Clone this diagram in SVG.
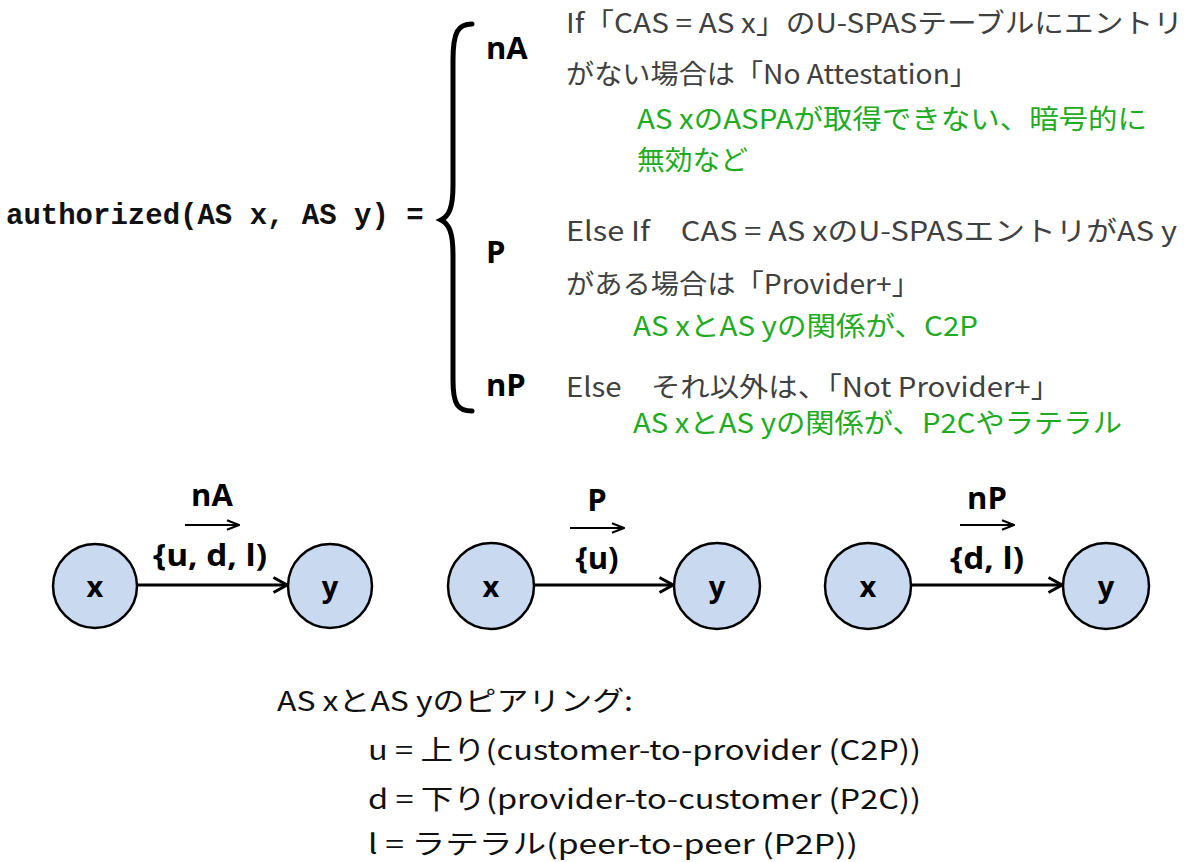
<svg xmlns="http://www.w3.org/2000/svg" width="1200" height="862" viewBox="0 0 1200 862">
<defs>
<style>
.mono{font-family:"Liberation Mono","DejaVu Sans Mono",monospace;font-weight:bold;font-size:29px;fill:#111}
.jp{font-family:"Noto Sans CJK JP","Noto Sans",sans-serif;font-size:27px;fill:#404040}
.gr{font-family:"Noto Sans CJK JP","Noto Sans",sans-serif;font-size:27px;fill:#22aa22}
.bk{font-family:"Noto Sans CJK JP","Noto Sans",sans-serif;font-size:27px;fill:#111}
.lbl{font-family:"Open Sans","Liberation Sans",sans-serif;font-weight:bold;font-size:31px;fill:#000}
.el{font-family:"Open Sans","Liberation Sans",sans-serif;font-weight:bold;font-size:31px;fill:#000;text-anchor:middle}
.nd{fill:#c9daf0;stroke:#000;stroke-width:2.5}
.ntx{font-family:"Open Sans","Liberation Sans",sans-serif;font-weight:bold;font-size:29px;fill:#000;text-anchor:middle}
.edge{stroke:#000;stroke-width:3;fill:none}
.small{stroke:#000;stroke-width:2;fill:none}
</style>
<marker id="head" viewBox="0 0 16 18" refX="15" refY="9" markerWidth="16" markerHeight="18" markerUnits="userSpaceOnUse" orient="auto">
<path d="M1.5,1.5 L15,9 L1.5,16.5" fill="none" stroke="#000" stroke-width="3"/>
</marker>
<marker id="shead" viewBox="0 0 14 12" refX="13" refY="6" markerWidth="14" markerHeight="12" markerUnits="userSpaceOnUse" orient="auto">
<path d="M1,1.2 L13,6 L1,10.8" fill="none" stroke="#000" stroke-width="2"/>
</marker>
</defs>
<rect width="1200" height="862" fill="#fff"/>

<g id="formula">
<text class="mono" x="6" y="224">authorized(AS x, AS y) =</text>
<path d="M472,24 C458,24 453,32 453,60 L453,185 C453,208 449,216 441,220 C449,224 453,232 453,255 L453,380 C453,405 458,411 472,411" fill="none" stroke="#000" stroke-width="5" stroke-linecap="round"/>
<text class="lbl" x="486" y="59">nA</text>
<text class="lbl" x="486" y="263">P</text>
<text class="lbl" x="486" y="396">nP</text>
</g>

<g id="cases">
<text class="jp" x="566" y="33" textLength="617" lengthAdjust="spacingAndGlyphs">If「CAS = AS x」のU-SPASテーブルにエントリ</text>
<text class="jp" x="566" y="84" textLength="412" lengthAdjust="spacingAndGlyphs">がない場合は「No Attestation」</text>
<text class="gr" x="637" y="129" textLength="510" lengthAdjust="spacingAndGlyphs">AS xのASPAが取得できない、暗号的に</text>
<text class="gr" x="637" y="170" textLength="111" lengthAdjust="spacingAndGlyphs">無効など</text>
<text class="jp" x="566" y="241" textLength="611" lengthAdjust="spacingAndGlyphs">Else If　CAS = AS xのU-SPASエントリがAS y</text>
<text class="jp" x="566" y="294" textLength="354" lengthAdjust="spacingAndGlyphs">がある場合は「Provider+」</text>
<text class="gr" x="633" y="336" textLength="345" lengthAdjust="spacingAndGlyphs">AS xとAS yの関係が、C2P</text>
<text class="jp" x="566" y="397" textLength="494" lengthAdjust="spacingAndGlyphs">Else　それ以外は、「Not Provider+」</text>
<text class="gr" x="633" y="433" textLength="489" lengthAdjust="spacingAndGlyphs">AS xとAS yの関係が、P2Cやラテラル</text>
</g>

<g id="g1x"><circle class="nd" cx="95" cy="586" r="42"/><text class="ntx" x="95" y="597">x</text></g>
<g id="g1y"><circle class="nd" cx="330" cy="586" r="42"/><text class="ntx" x="330" y="597">y</text></g>
<g id="g2x"><circle class="nd" cx="491" cy="586" r="43"/><text class="ntx" x="491" y="597">x</text></g>
<g id="g2y"><circle class="nd" cx="717" cy="586" r="43"/><text class="ntx" x="717" y="597">y</text></g>
<g id="g3x"><circle class="nd" cx="868" cy="586" r="43"/><text class="ntx" x="868" y="597">x</text></g>
<g id="g3y"><circle class="nd" cx="1106" cy="586" r="43"/><text class="ntx" x="1106" y="597">y</text></g>

<g id="connectors">
<line class="edge" x1="137" y1="585" x2="287" y2="585" marker-end="url(#head)"/>
<line class="edge" x1="534" y1="585" x2="673" y2="585" marker-end="url(#head)"/>
<line class="edge" x1="911" y1="585" x2="1062" y2="585" marker-end="url(#head)"/>
<line class="small" x1="185" y1="525" x2="239" y2="525" marker-end="url(#shead)"/>
<line class="small" x1="570" y1="528" x2="624" y2="528" marker-end="url(#shead)"/>
<line class="small" x1="960" y1="525" x2="1014" y2="525" marker-end="url(#shead)"/>
<text class="el" x="212" y="506">nA</text>
<text class="el" x="210" y="566" textLength="114" lengthAdjust="spacingAndGlyphs">{u, d, l)</text>
<text class="el" x="597" y="511">P</text>
<text class="el" x="597" y="569">{u)</text>
<text class="el" x="987" y="509">nP</text>
<text class="el" x="987" y="569" textLength="74" lengthAdjust="spacingAndGlyphs">{d, l)</text>
</g>

<g id="legend">
<text class="bk" x="277" y="711" textLength="356" lengthAdjust="spacingAndGlyphs">AS xとAS yのピアリング:</text>
<text class="bk" x="368" y="760" textLength="553" lengthAdjust="spacingAndGlyphs">u = 上り(customer-to-provider (C2P))</text>
<text class="bk" x="368" y="809" textLength="553" lengthAdjust="spacingAndGlyphs">d = 下り(provider-to-customer (P2C))</text>
<text class="bk" x="368" y="854" textLength="490" lengthAdjust="spacingAndGlyphs">l = ラテラル(peer-to-peer (P2P))</text>
</g>
</svg>
